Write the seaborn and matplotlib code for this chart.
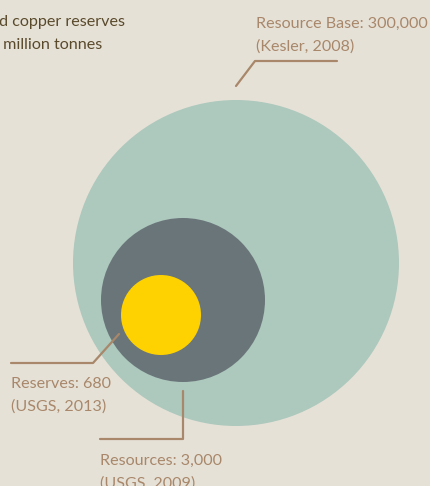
import matplotlib.pyplot as plt
import matplotlib.patches as mpatches
import seaborn as sns

# data
categories = ["Resource Base", "Resources", "Reserves"]
values = [300000, 3000, 680]
sources = ["Kesler, 2008", "USGS, 2009", "USGS, 2013"]
title_lines = ["d copper reserves", " million tonnes"]

# drawing layout (pixels, circles are not to scale in the original)
centers = [(236, 263), (183, 300), (161, 315)]
radii = [163, 82, 40]
colors = ["#adc8bd", "#6a757a", "#fed100"]

BG = "#e6e1d7"
BROWN = "#a8876a"
DARK = "#5a4a2c"

sns.set_style("white")
plt.rcParams['font.family'] = ['Lato', 'DejaVu Sans']

fig = plt.figure(figsize=(4.31, 4.86), dpi=100)
fig.patch.set_facecolor(BG)
ax = fig.add_axes([0, 0, 1, 1])
ax.set_facecolor(BG)
ax.set_xlim(0, 431)
ax.set_ylim(486, 0)
ax.set_aspect('equal')
ax.axis('off')

for (cx, cy), r, c in zip(centers, radii, colors):
    ax.add_patch(mpatches.Circle((cx, cy), r, color=c, lw=0))

fs = 11.6
# title
ax.text(-1, 26, title_lines[0], color=DARK, fontsize=fs, va='baseline')
ax.text(-1, 49, title_lines[1], color=DARK, fontsize=fs, va='baseline')

lw = 1.6
# resource base callout
ax.plot([236, 255, 337], [86, 61, 61], color=BROWN, lw=lw)
ax.text(256, 28, f"{categories[0]}: {values[0]:,}", color=BROWN, fontsize=fs, va='baseline')
ax.text(256, 51, f"({sources[0]})", color=BROWN, fontsize=fs, va='baseline')

# reserves callout
ax.plot([119, 93, 11], [334, 363, 363], color=BROWN, lw=lw)
ax.text(11, 388, f"{categories[2]}: {values[2]:,}", color=BROWN, fontsize=fs, va='baseline')
ax.text(11, 411, f"({sources[2]})", color=BROWN, fontsize=fs, va='baseline')

# resources callout
ax.plot([183, 183, 100], [391, 439, 439], color=BROWN, lw=lw)
ax.text(100, 465, f"{categories[1]}: {values[1]:,}", color=BROWN, fontsize=fs, va='baseline')
ax.text(100, 488, f"({sources[1]})", color=BROWN, fontsize=fs, va='baseline')

fig.savefig("out.png", dpi=100, facecolor=BG)
